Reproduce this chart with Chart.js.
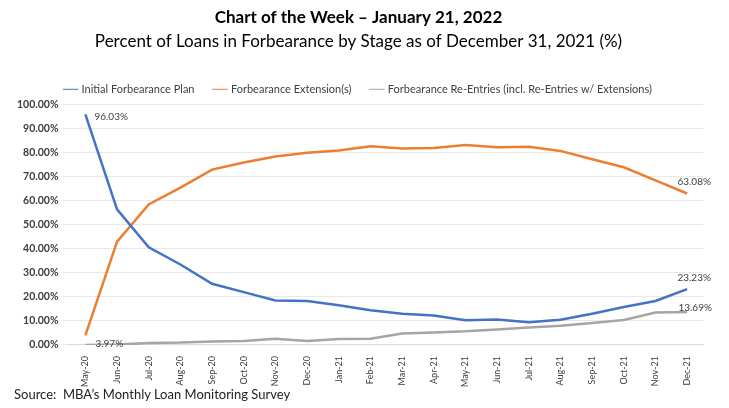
<!DOCTYPE html>
<html>
<head>
<meta charset="utf-8">
<script src="https://cdn.jsdelivr.net/npm/chart.js@4.4.1/dist/chart.umd.min.js"></script>
<style>
  html, body { margin: 0; padding: 0; background: #fff; }
  #wrap { position: relative; width: 729px; height: 408px; }
  #source { position: absolute; left: 14px; top: 386px; font: 13px Lato, sans-serif; color: #222; }
</style>
</head>
<body>
<div id="wrap">
  <canvas id="forbearanceChart" width="729" height="390"></canvas>
  <div id="source">Source:&nbsp; MBA’s Monthly Loan Monitoring Survey</div>
</div>
<script>
// months May-20 .. Dec-21
const months = ['May-20', 'Jun-20', 'Jul-20', 'Aug-20', 'Sep-20', 'Oct-20', 'Nov-20', 'Dec-20',
  'Jan-21', 'Feb-21', 'Mar-21', 'Apr-21', 'May-21', 'Jun-21', 'Jul-21', 'Aug-21', 'Sep-21',
  'Oct-21', 'Nov-21', 'Dec-21'];

const initialPlan = [96.03, 56.5, 40.7, 33.5, 25.5, 22.0, 18.5, 18.3, 16.5, 14.5, 13.0, 12.3,
  10.3, 10.6, 9.5, 10.5, 13.0, 15.8, 18.3, 23.23];
const extensions = [3.97, 43.0, 58.5, 65.5, 73.0, 76.0, 78.5, 80.0, 81.0, 82.7, 81.8, 82.0,
  83.3, 82.3, 82.5, 80.8, 77.3, 74.0, 68.5, 63.08];
const reEntries = [0.0, 0.2, 0.8, 1.0, 1.5, 1.7, 2.6, 1.7, 2.5, 2.6, 4.8, 5.2,
  5.7, 6.5, 7.3, 8.0, 9.2, 10.4, 13.5, 13.69];

const yTicks = [0, 10, 20, 30, 40, 50, 60, 70, 80, 90, 100];

// which points get a value label, and where the text sits relative to the point
const pointLabels = [
  { ds: 0, idx: 0, dx: 9, dy: 2, align: 'left' },
  { ds: 1, idx: 0, dx: 10, dy: 8, align: 'left' },
  { ds: 1, idx: 19, dx: 7, dy: -12, align: 'center' },
  { ds: 0, idx: 19, dx: 7, dy: -11, align: 'center' },
  { ds: 2, idx: 19, dx: 8, dy: -4, align: 'center' }
];

const valueLabels = {
  id: 'valueLabels',
  afterDatasetsDraw(chart) {
    const ctx = chart.ctx;
    ctx.save();
    ctx.font = '10px Lato, sans-serif';
    ctx.fillStyle = '#404040';
    ctx.textBaseline = 'middle';
    pointLabels.forEach(p => {
      const pt = chart.getDatasetMeta(p.ds).data[p.idx];
      const v = chart.data.datasets[p.ds].data[p.idx];
      ctx.textAlign = p.align;
      ctx.fillText(v.toFixed(2) + '%', pt.x + p.dx, pt.y + p.dy);
    });
    ctx.restore();
  }
};

const ctx = document.getElementById('forbearanceChart').getContext('2d');
new Chart(ctx, {
  type: 'line',
  data: {
    labels: months,
    datasets: [
      { label: 'Initial Forbearance Plan', data: initialPlan, borderColor: '#4472C4', backgroundColor: '#4472C4' },
      { label: 'Forbearance Extension(s)', data: extensions, borderColor: '#ED7D31', backgroundColor: '#ED7D31' },
      { label: 'Forbearance Re-Entries (incl. Re-Entries w/ Extensions)', data: reEntries, borderColor: '#A5A5A5', backgroundColor: '#A5A5A5' }
    ]
  },
  options: {
    responsive: false,
    animation: false,
    elements: {
      line: { borderWidth: 2.5, tension: 0 },
      point: { radius: 0 }
    },
    layout: { padding: { left: 14, right: 26, top: 0, bottom: 0 } },
    plugins: {
      title: {
        display: true,
        text: 'Chart of the Week – January 21, 2022',
        font: { family: 'Lato', size: 17, weight: 'bold' },
        color: '#000',
        padding: { top: 7, bottom: 4 }
      },
      subtitle: {
        display: true,
        text: 'Percent of Loans in Forbearance by Stage as of December 31, 2021 (%)',
        font: { family: 'Lato', size: 17 },
        color: '#000',
        padding: { bottom: 12 }
      },
      legend: {
        labels: {
          usePointStyle: true,
          pointStyle: 'line',
          boxWidth: 30,
          color: '#404040',
          font: { family: 'Lato', size: 11 },
          padding: 20
        }
      },
      tooltip: { enabled: false }
    },
    scales: {
      x: {
        offset: true,
        grid: { display: false },
        border: { color: '#d9d9d9' },
        ticks: {
          maxRotation: 90,
          minRotation: 90,
          color: '#404040',
          font: { family: 'Lato', size: 9 }
        }
      },
      y: {
        min: 0,
        max: 100,
        afterBuildTicks: axis => { axis.ticks = yTicks.map(v => ({ value: v })); },
        grid: { color: '#e8e8e8' },
        border: { display: false },
        ticks: {
          color: '#404040',
          font: { family: 'Lato', size: 10.5, weight: 'bold' },
          callback: v => v.toFixed(2) + '%'
        }
      }
    }
  },
  plugins: [valueLabels]
});
</script>
</body>
</html>
